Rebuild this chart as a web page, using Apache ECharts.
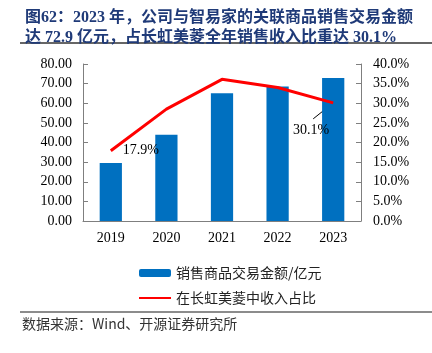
<!DOCTYPE html>
<html>
<head>
<meta charset="utf-8">
<script src="https://cdn.jsdelivr.net/npm/echarts@6/dist/echarts.min.js"></script>
<style>
html, body { margin: 0; padding: 0; background: #fff; }
#main { width: 432px; height: 353px; }
</style>
</head>
<body>
<div id="main"></div>
<script>
var chart = echarts.init(document.getElementById('main'));

var years = ['2019', '2020', '2021', '2022', '2023'];
var salesAmount = [29.6, 43.9, 65.1, 68.5, 72.9];
var revenueShare = [17.9, 28.5, 36.1, 34.0, 30.1];
var labelledPoints = [0, 4];

var serif = '"Liberation Serif", "Times New Roman", serif';
var cjk = '"Noto Sans CJK SC", sans-serif';
var axisColor = '#7f7f7f';

// only the first and last points carry a label
var shareData = revenueShare.map(function (v, i) {
    var item = { value: v };
    if (labelledPoints.indexOf(i) >= 0) {
        item.symbol = 'circle';
        item.symbolSize = 0.1;
        item.label = { show: true, position: i === 4 ? 'inside' : 'right', distance: 12 };
    }
    return item;
});

var option = {
    animation: false,
    title: {
        text: '图62：2023 年，公司与智易家的关联商品销售交易金额\n达 72.9 亿元，占长虹美菱全年销售收入比重达 30.1%',
        left: 20,
        top: 3,
        textStyle: {
            fontFamily: '"Liberation Serif", "Noto Sans CJK SC", serif',
            fontWeight: 'bold',
            fontSize: 16,
            lineHeight: 20,
            color: '#1f3a78'
        }
    },
    graphic: [
        { type: 'line', shape: { x1: 20, y1: 43, x2: 432, y2: 43 }, style: { stroke: '#666', lineWidth: 2 } },
        { type: 'line', shape: { x1: 20, y1: 312, x2: 432, y2: 312 }, style: { stroke: '#666', lineWidth: 1.5 } },
        { type: 'text', left: 22, top: 317, style: { text: '数据来源：Wind、开源证券研究所', font: '14px "Noto Sans CJK SC", sans-serif', fill: '#333' } }
    ],
    legend: {
        orient: 'vertical',
        left: 133,
        top: 261,
        itemWidth: 32,
        itemHeight: 8,
        itemGap: 11,
        textStyle: { fontFamily: cjk, fontSize: 14, color: '#222' },
        data: [
            { name: '销售商品交易金额/亿元' },
            { name: '在长虹美菱中收入占比', itemStyle: { opacity: 0 } }
        ]
    },
    grid: { left: 83, right: 71, top: 64, bottom: 132 },
    xAxis: {
        type: 'category',
        data: years,
        axisLine: { lineStyle: { color: axisColor } },
        axisTick: { inside: true, lineStyle: { color: axisColor } },
        axisLabel: { fontFamily: serif, fontSize: 14, color: '#000', margin: 10 }
    },
    yAxis: [{
        type: 'value',
        min: 0,
        max: 80,
        interval: 10,
        splitLine: { show: false },
        axisLine: { show: true, lineStyle: { color: axisColor } },
        axisTick: { show: true, inside: true, lineStyle: { color: axisColor } },
        axisLabel: {
            fontFamily: serif, fontSize: 14, color: '#000', margin: 11,
            formatter: function (v) { return v.toFixed(2); }
        }
    }, {
        type: 'value',
        min: 0,
        max: 40,
        interval: 5,
        splitLine: { show: false },
        axisLine: { show: true, lineStyle: { color: axisColor } },
        axisTick: { show: true, inside: true, lineStyle: { color: axisColor } },
        axisLabel: {
            fontFamily: serif, fontSize: 14, color: '#000', margin: 12,
            formatter: function (v) { return v.toFixed(1) + '%'; }
        }
    }],
    series: [{
        name: '销售商品交易金额/亿元',
        type: 'bar',
        data: salesAmount,
        barWidth: '40%',
        itemStyle: { color: '#0070c0' }
    }, {
        name: '在长虹美菱中收入占比',
        type: 'line',
        yAxisIndex: 1,
        data: shareData,
        symbol: 'none',
        lineStyle: { color: '#ff0000', width: 3 },
        itemStyle: { color: '#ff0000' },
        label: {
            show: false,
            fontFamily: serif,
            fontSize: 14,
            color: '#000',
            formatter: function (p) { return p.value.toFixed(1) + '%'; }
        },
        labelLayout: function (p) {
            if (p.dataIndex === 4) return { dx: -22, dy: 27 };
            return {};
        }
    }]
};

chart.setOption(option);

// leader line from the 2023 label up to its point, placed through the chart's own scales
var last = chart.convertToPixel({ seriesIndex: 1 }, [4, revenueShare[4]]);
chart.setOption({
    graphic: option.graphic.concat([{
        type: 'line',
        silent: true,
        shape: { x1: last[0], y1: last[1], x2: last[0] - 20, y2: last[1] + 16 },
        style: { stroke: '#000', lineWidth: 1 }
    }])
});
</script>
</body>
</html>
